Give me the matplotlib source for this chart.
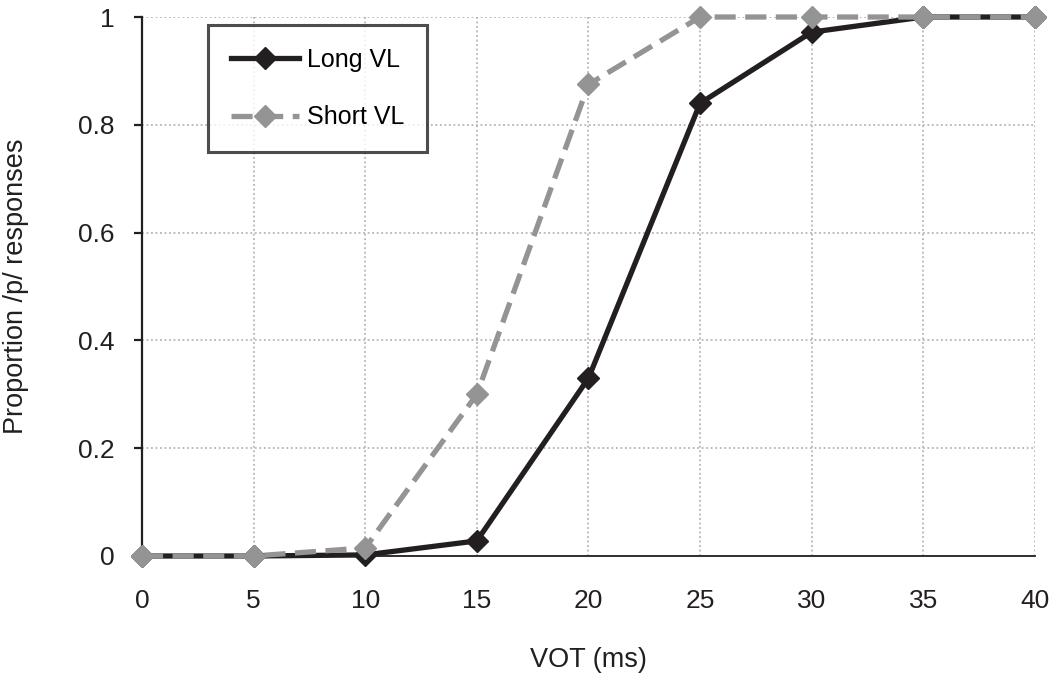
import matplotlib.pyplot as plt

plt.rcParams['font.family'] = ['Liberation Sans', 'DejaVu Sans']

# VOT continuum (ms) and identification proportions
vot = [0, 5, 10, 15, 20, 25, 30, 35, 40]
long_vl = [0, 0, 0.002, 0.028, 0.33, 0.84, 0.972, 1, 1]
short_vl = [0, 0, 0.015, 0.30, 0.875, 1, 1, 1, 1]

y_ticks = [0, 0.2, 0.4, 0.6, 0.8, 1]
y_labels = ["0", "0.2", "0.4", "0.6", "0.8", "1"]

ink = "#231f20"

fig = plt.figure(figsize=(10.5, 6.75), dpi=100)
ax = fig.add_axes([0.1352, 0.1763, 0.8505, 0.7985])

ax.plot(vot, long_vl, color=ink, lw=3.8, marker="D", ms=11.5,
        mfc=ink, mec=ink, label="Long VL", clip_on=False, zorder=4)
ax.plot(vot, short_vl, color="#949494", lw=3.8, dashes=(4, 1.8), marker="D",
        ms=11.5, mfc="#949494", mec="#949494", label="Short VL",
        clip_on=False, zorder=5)

ax.set_xlim(0, 40)
ax.set_ylim(0, 1)
ax.set_xticks(range(0, 41, 5))
ax.set_xticks([40], minor=True)
ax.set_yticks(y_ticks)
ax.set_yticklabels(y_labels)

ax.grid(True, which="major", color="#b5b5b5", ls=(0, (1, 1.5)), lw=1.3,
        zorder=0)
ax.set_axisbelow(True)
for s in ["top", "right"]:
    ax.spines[s].set_visible(False)
ax.spines["left"].set_linewidth(1.6)
ax.spines["bottom"].set_linewidth(1.3)
ax.spines["left"].set_color(ink)
ax.spines["bottom"].set_color(ink)

ax.tick_params(axis="x", which="major", length=0, pad=24, labelsize=19,
               colors=ink)
ax.tick_params(axis="x", which="minor", length=6, width=1.6, color=ink)
ax.tick_params(axis="y", length=6, width=1.6, pad=14, labelsize=19,
               colors=ink)

ax.set_xlabel("VOT (ms)", fontsize=19.5, color=ink, labelpad=24)
ax.set_ylabel("Proportion /p/ responses", fontsize=19.5, color=ink)
ax.yaxis.set_label_coords(-0.126, 0.5)

leg = ax.legend(loc="upper left", bbox_to_anchor=(0.074, 0.985),
                fontsize=18, frameon=True, fancybox=False,
                edgecolor=ink, handlelength=2.75, borderpad=0.9,
                labelspacing=1.35, handletextpad=0.3, borderaxespad=0)
leg.get_frame().set_linewidth(2.2)

fig.savefig("out.png", dpi=100)
